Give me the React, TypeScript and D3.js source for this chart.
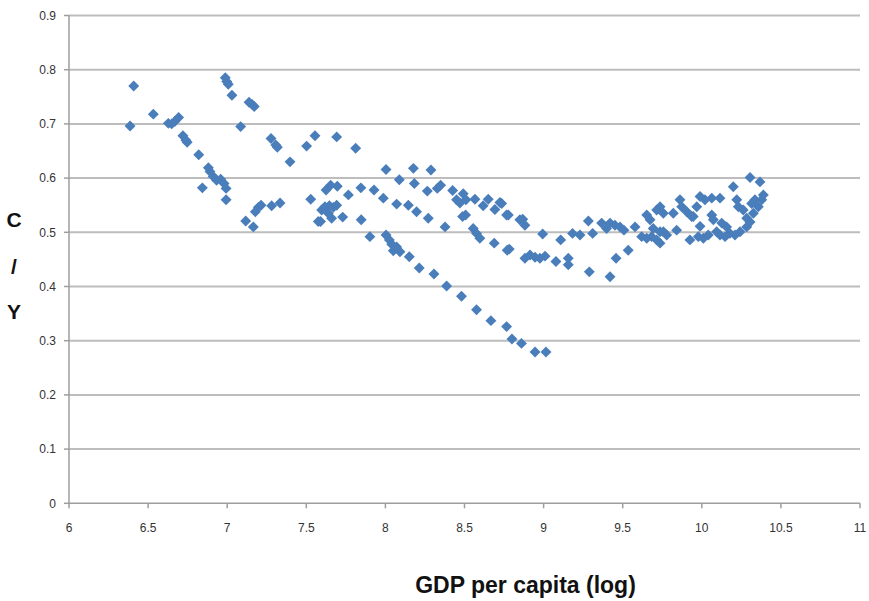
import React from "react";
import * as d3 from "d3";

// Log GDP per capita vs. consumption share of output (C/Y)
const gdpLog: number[] = [
  6.409, 6.386, 6.533, 6.628, 6.649, 6.670, 6.693, 6.720, 6.739, 6.747,
  6.820, 6.881, 6.891, 6.912, 6.933, 6.959, 6.980, 6.993, 6.993, 6.843,
  6.988, 6.997, 7.007, 7.030, 7.085, 7.138, 7.157, 7.171, 7.117, 7.165,
  7.178, 7.197, 7.214, 7.281, 7.334, 7.277, 7.307, 7.317, 7.397, 7.502,
  7.555, 7.528, 7.576, 7.692, 7.812, 8.004, 8.088, 8.177, 8.183, 8.288,
  8.265, 8.328, 8.349, 7.625, 7.654, 7.696, 7.597, 7.618, 7.646, 7.671,
  7.692, 7.639, 7.660, 7.590, 7.730, 7.766, 7.845, 7.847, 7.928, 7.987,
  7.902, 8.071, 8.145, 8.197, 8.271, 8.377, 8.004, 8.025, 8.040, 8.050,
  8.071, 8.092, 8.151, 8.214, 8.307, 8.387, 8.481, 8.576, 8.667, 8.766,
  8.800, 8.860, 8.946, 9.015, 8.425, 8.450, 8.492, 8.471, 8.509, 8.566,
  8.618, 8.650, 8.692, 8.724, 8.766, 8.850, 8.488, 8.507, 8.555, 8.576,
  8.597, 8.688, 8.770, 8.735, 8.777, 8.868, 8.882, 8.783, 8.882, 8.914,
  8.946, 8.977, 9.009, 8.994, 9.078, 9.108, 9.156, 9.156, 9.183, 9.230,
  9.283, 9.289, 9.310, 9.367, 9.398, 9.420, 9.451, 9.483, 9.508, 9.420,
  9.458, 9.535, 9.578, 9.652, 9.673, 9.715, 9.736, 9.757, 9.820, 9.862,
  9.873, 9.905, 9.936, 9.968, 9.620, 9.652, 9.683, 9.715, 9.736, 9.757,
  9.778, 9.841, 9.925, 9.978, 9.693, 9.736, 9.946, 9.989, 10.020, 10.063,
  10.115, 9.989, 10.010, 10.041, 10.063, 10.073, 10.094, 10.115, 10.147, 10.178,
  10.210, 10.242, 10.284, 10.305, 10.326, 10.357, 10.379, 10.389, 10.199, 10.221,
  10.231, 10.305, 10.368, 10.262, 10.284, 10.315, 10.336, 10.157, 10.126,
];

const cyRatio: number[] = [
  0.770, 0.696, 0.718, 0.701, 0.700, 0.705, 0.712, 0.678, 0.670, 0.666,
  0.643, 0.619, 0.612, 0.603, 0.596, 0.598, 0.590, 0.581, 0.560, 0.582,
  0.785, 0.778, 0.773, 0.753, 0.695, 0.740, 0.736, 0.732, 0.521, 0.510,
  0.538, 0.546, 0.550, 0.549, 0.554, 0.673, 0.661, 0.657, 0.630, 0.659,
  0.678, 0.561, 0.520, 0.676, 0.655, 0.616, 0.597, 0.618, 0.590, 0.615,
  0.576, 0.581, 0.587, 0.578, 0.587, 0.585, 0.541, 0.547, 0.549, 0.546,
  0.550, 0.535, 0.526, 0.520, 0.528, 0.569, 0.582, 0.523, 0.578, 0.563,
  0.492, 0.552, 0.550, 0.538, 0.526, 0.510, 0.495, 0.486, 0.478, 0.466,
  0.473, 0.464, 0.455, 0.434, 0.423, 0.401, 0.382, 0.357, 0.337, 0.326,
  0.303, 0.295, 0.279, 0.279, 0.577, 0.560, 0.571, 0.554, 0.560, 0.561,
  0.549, 0.561, 0.542, 0.555, 0.532, 0.523, 0.529, 0.532, 0.507, 0.498,
  0.489, 0.480, 0.467, 0.553, 0.532, 0.524, 0.513, 0.469, 0.452, 0.458,
  0.454, 0.452, 0.456, 0.497, 0.446, 0.486, 0.452, 0.440, 0.498, 0.495,
  0.521, 0.427, 0.498, 0.517, 0.507, 0.517, 0.513, 0.510, 0.504, 0.418,
  0.452, 0.467, 0.510, 0.532, 0.523, 0.541, 0.547, 0.535, 0.535, 0.560,
  0.547, 0.538, 0.529, 0.547, 0.492, 0.489, 0.492, 0.486, 0.480, 0.501,
  0.495, 0.504, 0.486, 0.492, 0.507, 0.501, 0.529, 0.566, 0.560, 0.563,
  0.563, 0.511, 0.489, 0.495, 0.532, 0.523, 0.501, 0.495, 0.492, 0.498,
  0.495, 0.501, 0.510, 0.519, 0.535, 0.547, 0.560, 0.569, 0.584, 0.560,
  0.547, 0.601, 0.593, 0.541, 0.526, 0.553, 0.560, 0.510, 0.517,
];

const xTicks: number[] = [6, 6.5, 7, 7.5, 8, 8.5, 9, 9.5, 10, 10.5, 11];
const yTicks: number[] = [0, 0.1, 0.2, 0.3, 0.4, 0.5, 0.6, 0.7, 0.8, 0.9];
const yTitleParts: string[] = ["C", "/", "Y"];

const W = 869;
const H = 601;
const plot = { left: 69, right: 860, top: 15.5, bottom: 503.3 };
const FONT = "'Liberation Sans', Arial, sans-serif";

export default function App() {
  const x = d3.scaleLinear().domain([6, 11]).range([plot.left, plot.right]);
  const y = d3.scaleLinear().domain([0, 0.9]).range([plot.bottom, plot.top]);
  const diamond = d3.symbol().type(d3.symbolDiamond2).size(76)();
  const points = gdpLog.map((g, i) => ({ g, c: cyRatio[i] }));
  const yTitleBaselines = [227, 273.5, 319];

  return (
    <svg
      width={W}
      height={H}
      style={{ position: "absolute", left: 0, top: 0, background: "#fff" }}
    >
      {/* horizontal gridlines */}
      {yTicks.filter((t) => t > 0).map((t) => (
        <line
          key={`g${t}`}
          x1={plot.left}
          x2={plot.right}
          y1={y(t)}
          y2={y(t)}
          stroke="#bdbdbd"
          strokeWidth={2}
        />
      ))}
      {/* axes */}
      <line x1={plot.left} x2={plot.left} y1={plot.top} y2={plot.bottom} stroke="#9e9e9e" strokeWidth={1.5} />
      <line x1={plot.left} x2={plot.right} y1={plot.bottom} y2={plot.bottom} stroke="#9e9e9e" strokeWidth={1.5} />
      {yTicks.map((t) => (
        <g key={`y${t}`}>
          <line x1={plot.left - 5} x2={plot.left} y1={y(t)} y2={y(t)} stroke="#9e9e9e" strokeWidth={1.5} />
          <text
            x={56}
            y={y(t)}
            dy="0.35em"
            textAnchor="end"
            fontFamily={FONT}
            fontSize={12}
            fill="#333"
          >
            {t}
          </text>
        </g>
      ))}
      {xTicks.map((t) => (
        <g key={`x${t}`}>
          <line x1={x(t)} x2={x(t)} y1={plot.bottom} y2={plot.bottom + 5} stroke="#9e9e9e" strokeWidth={1.5} />
          <text
            x={x(t)}
            y={532}
            textAnchor="middle"
            fontFamily={FONT}
            fontSize={12}
            fill="#333"
          >
            {t}
          </text>
        </g>
      ))}
      {/* data points */}
      {points.map((p, i) => (
        <path
          key={i}
          d={diamond ?? ""}
          transform={`translate(${x(p.g)},${y(p.c)})`}
          fill="#4a7ebb"
        />
      ))}
      {/* axis titles */}
      <text
        x={525.5}
        y={593}
        textAnchor="middle"
        fontFamily={FONT}
        fontWeight="bold"
        fontSize={23}
        fill="#111"
      >
        GDP per capita (log)
      </text>
      {yTitleParts.map((s, i) => (
        <text
          key={s}
          x={14}
          y={yTitleBaselines[i]}
          textAnchor="middle"
          fontFamily={FONT}
          fontWeight="bold"
          fontSize={21}
          fill="#111"
        >
          {s}
        </text>
      ))}
    </svg>
  );
}
